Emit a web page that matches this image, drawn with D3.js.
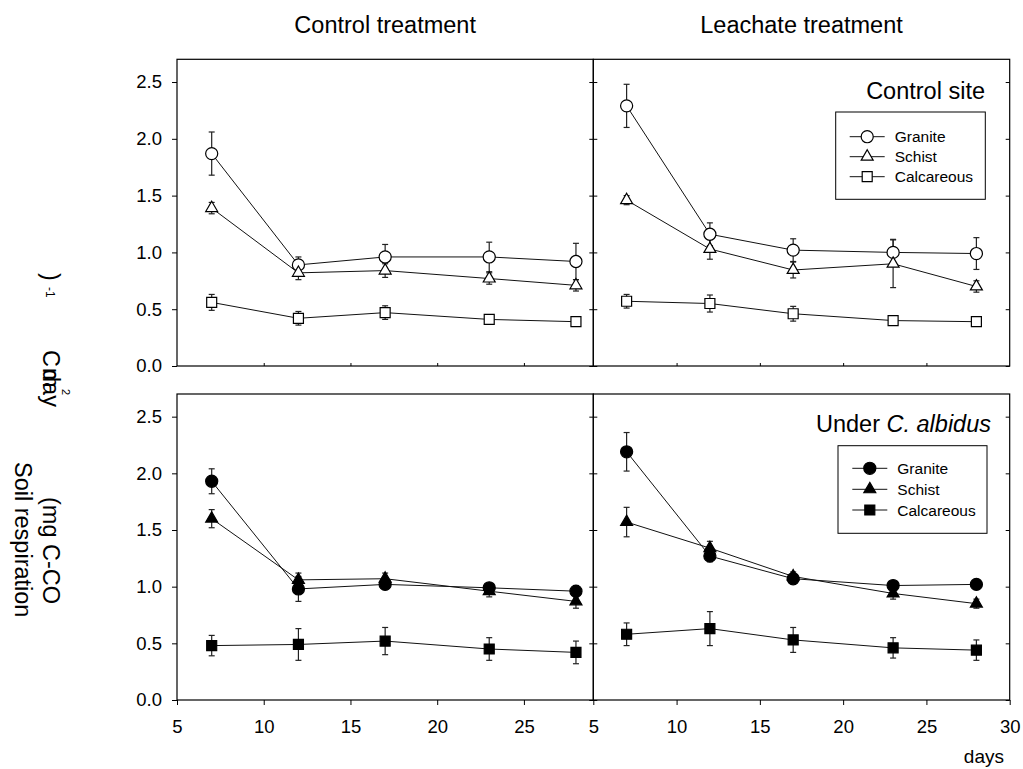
<!DOCTYPE html>
<html>
<head>
<meta charset="utf-8">
<script src="https://cdn.jsdelivr.net/npm/d3@7"></script>
<style>
  body { margin: 0; background: #fff; }
  text { font-family: "Liberation Sans", Arial, sans-serif; fill: #000; }
</style>
</head>
<body>
<div id="chart-area"></div>
<script>
// SVG size
var width = 1023,
    height = 769;

// sampling days
var days = [7, 12, 17, 23, 28];
var soils = ["Granite", "Schist", "Calcareous"];

// tick values
var yTicks = [0, 0.5, 1.0, 1.5, 2.0, 2.5];
var xTicksLeft = [5, 10, 15, 20, 25];
var xTicksRight = [5, 10, 15, 20, 25, 30];

// column titles
var treatments = ["Control treatment", "Leachate treatment"];

// Control site (open symbols), rows = Granite, Schist, Calcareous
var ctrlOpenMean = [
    [1.87, 0.89, 0.96, 0.96, 0.92],
    [1.39, 0.82, 0.84, 0.77, 0.71],
    [0.56, 0.42, 0.47, 0.41, 0.39]
];
var ctrlOpenErr = [
    [0.19, 0.07, 0.11, 0.13, 0.16],
    [0.05, 0.06, 0.06, 0.05, 0.05],
    [0.07, 0.06, 0.06, 0.02, 0.03]
];
var leachOpenMean = [
    [2.29, 1.16, 1.02, 1.00, 0.99],
    [1.46, 1.03, 0.845, 0.90, 0.70],
    [0.57, 0.55, 0.46, 0.40, 0.39]
];
var leachOpenErr = [
    [0.19, 0.10, 0.10, 0.115, 0.14],
    [0.04, 0.09, 0.07, 0.21, 0.05],
    [0.06, 0.075, 0.065, 0.03, 0.03]
];

// Under C. albidus (filled symbols)
var ctrlFilledMean = [
    [1.93, 0.98, 1.02, 0.99, 0.96],
    [1.60, 1.06, 1.07, 0.96, 0.87],
    [0.48, 0.49, 0.52, 0.45, 0.42]
];
var ctrlFilledErr = [
    [0.11, 0.11, 0.04, 0.03, 0.05],
    [0.08, 0.06, 0.05, 0.05, 0.06],
    [0.09, 0.14, 0.12, 0.10, 0.10]
];
var leachFilledMean = [
    [2.19, 1.27, 1.07, 1.01, 1.02],
    [1.57, 1.34, 1.09, 0.94, 0.85],
    [0.58, 0.63, 0.53, 0.46, 0.44]
];
var leachFilledErr = [
    [0.17, 0.05, 0.04, 0.03, 0.03],
    [0.13, 0.06, 0.04, 0.05, 0.04],
    [0.10, 0.15, 0.11, 0.09, 0.09]
];

var svg = d3.select('#chart-area')
    .append('svg')
    .attr('width', width)
    .attr('height', height);

// panel edges
var x0 = 177, xMid = 593.3, x1 = 1009.7;
var topY0 = 59.3, topY1 = 366, botY0 = 394, botY1 = 700;

var xLeft = d3.scaleLinear().domain([5, 29]).range([x0, xMid]);
var xRight = d3.scaleLinear().domain([5, 30]).range([xMid, x1]);
var yTop = d3.scaleLinear().domain([0, 2.7]).range([topY1, topY0]);
var yBot = d3.scaleLinear().domain([0, 2.7]).range([botY1, botY0]);

var symbolTypes = [d3.symbolCircle, d3.symbolTriangle, d3.symbolSquare];
var symbolSizes = [115, 62, 100];

function drawPanel(xs, ys, means, errs, filled) {
    var g = svg.append('g');
    var line = d3.line()
        .x(function (d, i) { return xs(days[i]); })
        .y(function (d) { return ys(d); });

    means.forEach(function (series) {
        g.append('path')
            .attr('d', line(series))
            .attr('fill', 'none')
            .attr('stroke', '#111')
            .attr('stroke-width', 1);
    });

    // error bars behind the markers
    means.forEach(function (series, s) {
        series.forEach(function (m, i) {
            var e = errs[s][i];
            var cx = xs(days[i]);
            var eb = g.append('g')
                .attr('stroke', '#222')
                .attr('stroke-width', 1.2);
            eb.append('line')
                .attr('x1', cx).attr('x2', cx)
                .attr('y1', ys(m - e)).attr('y2', ys(m + e));
            [m - e, m + e].forEach(function (v) {
                eb.append('line')
                    .attr('x1', cx - 3).attr('x2', cx + 3)
                    .attr('y1', ys(v)).attr('y2', ys(v));
            });
        });
    });

    means.forEach(function (series, s) {
        g.selectAll(null)
            .data(series)
            .enter()
            .append('path')
            .attr('transform', function (d, i) {
                return 'translate(' + xs(days[i]) + ',' + ys(d) + ')';
            })
            .attr('d', d3.symbol().type(symbolTypes[s]).size(symbolSizes[s]))
            .attr('fill', filled ? '#000' : '#fff')
            .attr('stroke', '#000')
            .attr('stroke-width', 1.2);
    });
}

function drawLegend(bx, by, bw, bh, lineX, rowYs, filled) {
    svg.append('rect')
        .attr('x', bx).attr('y', by)
        .attr('width', bw).attr('height', bh)
        .attr('fill', '#fff')
        .attr('stroke', '#000')
        .attr('stroke-width', 1);
    soils.forEach(function (name, s) {
        var ly = rowYs[s];
        svg.append('line')
            .attr('x1', lineX).attr('x2', lineX + 35)
            .attr('y1', ly).attr('y2', ly)
            .attr('stroke', '#111');
        svg.append('path')
            .attr('transform', 'translate(' + (lineX + 17.5) + ',' + ly + ')')
            .attr('d', d3.symbol().type(symbolTypes[s]).size(symbolSizes[s]))
            .attr('fill', filled ? '#000' : '#fff')
            .attr('stroke', '#000')
            .attr('stroke-width', 1.2);
        svg.append('text')
            .attr('x', lineX + 45)
            .attr('y', ly + 5.5)
            .style('font-size', '15.5px')
            .text(name);
    });
}

drawPanel(xLeft, yTop, ctrlOpenMean, ctrlOpenErr, false);
drawPanel(xRight, yTop, leachOpenMean, leachOpenErr, false);
drawPanel(xLeft, yBot, ctrlFilledMean, ctrlFilledErr, true);
drawPanel(xRight, yBot, leachFilledMean, leachFilledErr, true);

// axes
function styleAxis(g) {
    g.select('.domain').remove();
    g.selectAll('.tick line').attr('stroke', '#000');
    g.selectAll('.tick text')
        .style('font-family', '"Liberation Sans", Arial, sans-serif')
        .style('font-size', '18.5px')
        .attr('fill', '#000');
}

[yTop, yBot].forEach(function (ys) {
    svg.append('g')
        .attr('transform', 'translate(' + x0 + ',0)')
        .call(d3.axisLeft(ys).tickValues(yTicks).tickSize(5).tickPadding(10)
            .tickFormat(d3.format('.1f')))
        .call(styleAxis);
    // inner ticks on the shared edge and the right edge
    svg.append('g')
        .attr('transform', 'translate(' + xMid + ',0)')
        .call(d3.axisLeft(ys).tickValues(yTicks).tickSize(4).tickFormat(''))
        .call(styleAxis);
    svg.append('g')
        .attr('transform', 'translate(' + xMid + ',0)')
        .call(d3.axisRight(ys).tickValues(yTicks).tickSize(4).tickFormat(''))
        .call(styleAxis);
    svg.append('g')
        .attr('transform', 'translate(' + x1 + ',0)')
        .call(d3.axisLeft(ys).tickValues(yTicks).tickSize(4).tickFormat(''))
        .call(styleAxis);
});

svg.append('g')
    .attr('transform', 'translate(0,' + botY1 + ')')
    .call(d3.axisBottom(xLeft).tickValues(xTicksLeft).tickSize(5).tickPadding(15))
    .call(styleAxis);
svg.append('g')
    .attr('transform', 'translate(0,' + botY1 + ')')
    .call(d3.axisBottom(xRight).tickValues(xTicksRight).tickSize(5).tickPadding(15))
    .call(styleAxis);

// small inner ticks on the bottom edge of the top panels
svg.append('g')
    .attr('transform', 'translate(0,' + topY1 + ')')
    .call(d3.axisTop(xLeft).tickValues(xTicksLeft.slice(1)).tickSize(3).tickFormat(''))
    .call(styleAxis);
svg.append('g')
    .attr('transform', 'translate(0,' + topY1 + ')')
    .call(d3.axisTop(xRight).tickValues(xTicksRight.slice(1, 5)).tickSize(3).tickFormat(''))
    .call(styleAxis);

// panel frames
[[x0, topY0, xMid, topY1], [xMid, topY0, x1, topY1],
 [x0, botY0, xMid, botY1], [xMid, botY0, x1, botY1]].forEach(function (r) {
    svg.append('rect')
        .attr('x', r[0]).attr('y', r[1])
        .attr('width', r[2] - r[0]).attr('height', r[3] - r[1])
        .attr('fill', 'none')
        .attr('stroke', '#000')
        .attr('stroke-width', 1.2);
});

// column titles
svg.append('text')
    .attr('x', (x0 + xMid) / 2).attr('y', 33)
    .attr('text-anchor', 'middle')
    .style('font-size', '23.5px')
    .text(treatments[0]);
svg.append('text')
    .attr('x', (xMid + x1) / 2).attr('y', 33)
    .attr('text-anchor', 'middle')
    .style('font-size', '23.5px')
    .text(treatments[1]);

// panel labels
svg.append('text')
    .attr('x', 985).attr('y', 99)
    .attr('text-anchor', 'end')
    .style('font-size', '23.5px')
    .text('Control site');
var under = svg.append('text')
    .attr('x', 991).attr('y', 432)
    .attr('text-anchor', 'end')
    .style('font-size', '23.5px');
under.append('tspan').text('Under ');
under.append('tspan').style('font-style', 'italic').text('C. albidus');

drawLegend(835.7, 112, 149.6, 87.3, 849.7, [136.7, 156.7, 176.7], false);
drawLegend(838, 445.7, 149, 87.6, 852.3, [468.3, 489.3, 510], true);

// x axis title
svg.append('text')
    .attr('x', 1004).attr('y', 763)
    .attr('text-anchor', 'end')
    .style('font-size', '19px')
    .text('days');

// y axis title (pieces placed as in the original export)
function yPiece(x, y, size, txt) {
    svg.append('text')
        .attr('transform', 'translate(' + x + ',' + y + ') rotate(90)')
        .style('font-size', size + 'px')
        .text(txt);
}
yPiece(15, 462, 23.5, 'Soil respiration');
yPiece(43, 497, 23.5, '(mg C-CO');
yPiece(43, 273, 23.5, ')');
yPiece(46, 287, 12, '-1');
yPiece(43, 350, 23.5, 'C');
yPiece(43, 368, 23.5, 'm');
yPiece(43, 369, 23.5, 'day');
yPiece(62, 389, 11, '2');
</script>
</body>
</html>
